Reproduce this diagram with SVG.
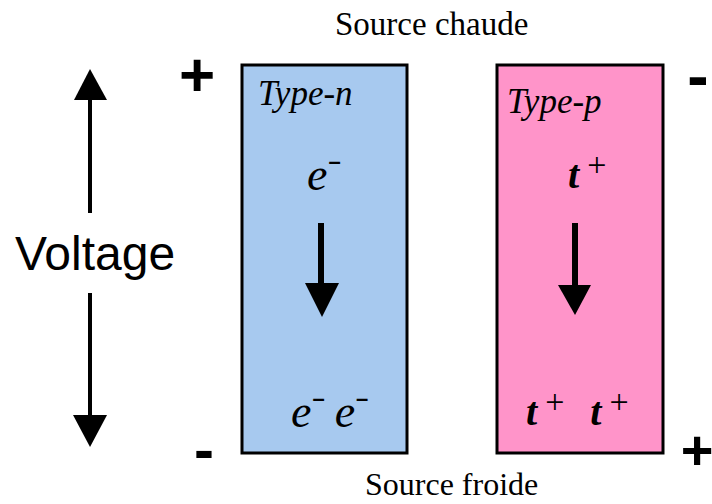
<svg xmlns="http://www.w3.org/2000/svg" width="712" height="504" viewBox="0 0 712 504">
  <style>
    .box { stroke: #000; stroke-width: 3; }
    .serif { font-family: "Liberation Serif", "Times New Roman", serif; fill: #000; }
    .it { font-style: italic; }
    .sup { font-style: normal; font-family: "Liberation Sans", Arial, sans-serif; font-weight: bold; font-size: 22px; }
    .pl { font-style: normal; font-weight: normal; font-size: 34px; }
    .sign { font-family: "Liberation Sans", Arial, sans-serif; font-weight: bold; fill: #000; text-anchor: middle; }
    .shaft { stroke: #000; fill: none; }
  </style>
  <rect width="712" height="504" fill="#fff"/>

  <!-- headings -->
  <text class="serif" x="335" y="35" font-size="33">Source chaude</text>
  <text class="serif" x="365" y="495" font-size="32">Source froide</text>

  <!-- n-type leg -->
  <g id="type-n">
    <rect class="box" x="242" y="65" width="165" height="388" fill="#a7c9ef"/>
    <text class="serif it" x="258" y="105" font-size="35">Type-n</text>
    <text class="serif it" x="307" y="190" font-size="46">e<tspan class="sup" dx="1" dy="-21">–</tspan></text>
    <text class="serif it" x="291" y="427" font-size="46">e<tspan class="sup" dx="1" dy="-21">–</tspan><tspan dx="10" dy="21">e</tspan><tspan class="sup" dx="1" dy="-21">–</tspan></text>
  </g>

  <!-- p-type leg -->
  <g id="type-p">
    <rect class="box" x="497" y="65" width="166" height="388" fill="#ff94c9"/>
    <text class="serif it" x="507" y="113" font-size="35">Type-p</text>
    <text class="serif it" x="568" y="188" font-size="40" font-weight="bold">t<tspan class="pl" dx="8" dy="-12">+</tspan></text>
    <text class="serif it" x="526" y="425" font-size="40" font-weight="bold">t<tspan class="pl" dx="8" dy="-12">+</tspan><tspan dx="26" dy="12">t</tspan><tspan class="pl" dx="8" dy="-12">+</tspan></text>
  </g>

  <!-- voltage scale -->
  <g id="voltage">
    <text x="15" y="270" font-family="Liberation Sans, Arial, sans-serif" font-size="48" fill="#000">Voltage</text>
  </g>

  <!-- polarity signs -->
  <g id="signs">
    <text class="sign" x="197" y="96" font-size="62">+</text>
    <text class="sign" x="698" y="98" font-size="64">-</text>
    <text class="sign" x="204" y="470" font-size="60">-</text>
    <text class="sign" x="697" y="469" font-size="56">+</text>
  </g>

  <!-- arrows -->
  <g id="connectors">
    <line class="shaft" x1="90" y1="98" x2="90" y2="213" stroke-width="4"/>
    <polygon points="90,69 74,100 107,100"/>
    <line class="shaft" x1="90" y1="293" x2="90" y2="417" stroke-width="4"/>
    <polygon points="73,415 107,415 90,447"/>
    <line class="shaft" x1="321" y1="223" x2="321" y2="285" stroke-width="6"/>
    <polygon points="305,283 339,283 322,317"/>
    <line class="shaft" x1="575" y1="223" x2="575" y2="287" stroke-width="6"/>
    <polygon points="558,285 591,285 575,315"/>
  </g>
</svg>
